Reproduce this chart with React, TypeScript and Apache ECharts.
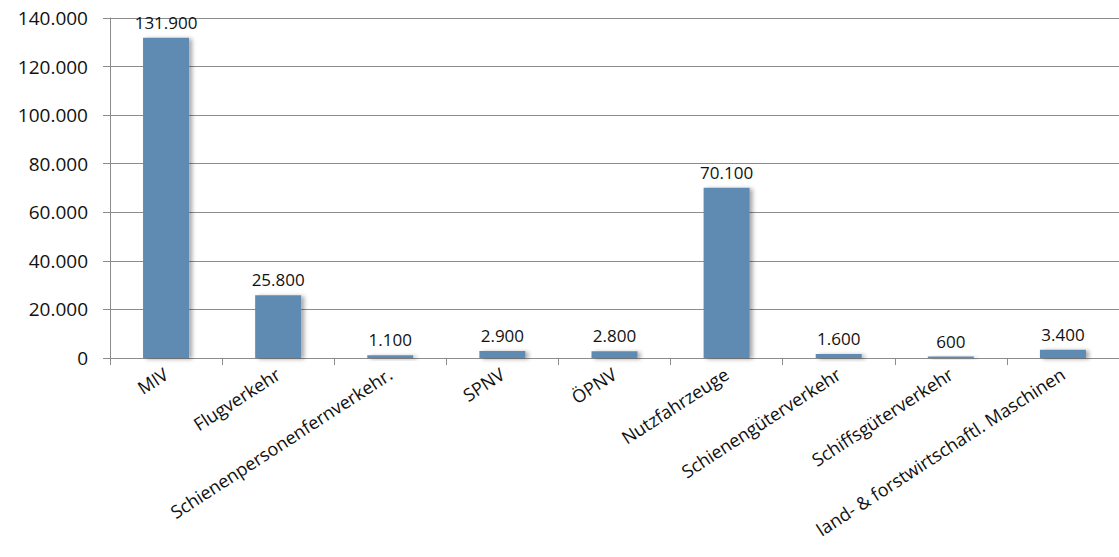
import React, { useEffect, useRef } from "react";
import * as echarts from "echarts";

const categories = [
  "MIV",
  "Flugverkehr",
  "Schienenpersonenfernverkehr.",
  "SPNV",
  "ÖPNV",
  "Nutzfahrzeuge",
  "Schienengüterverkehr",
  "Schiffsgüterverkehr",
  "land- & forstwirtschaftl. Maschinen",
];
const values = [131900, 25800, 1100, 2900, 2800, 70100, 1600, 600, 3400];

const fmt = (v: number) => String(v).replace(/\B(?=(\d{3})+(?!\d))/g, ".");

export default function App() {
  const ref = useRef<HTMLDivElement>(null);
  useEffect(() => {
    document.body.style.margin = "0";
    const chart = echarts.init(ref.current!, null, { renderer: "svg" });
    chart.setOption({
      animation: false,
      backgroundColor: "#ffffff",
      textStyle: { fontFamily: "Open Sans" },
      grid: { left: 110, right: -2, top: 18, bottom: 199, containLabel: false },
      xAxis: {
        type: "category",
        data: categories,
        axisLine: { lineStyle: { color: "#8c8c8c", width: 1 } },
        axisTick: { show: true, length: 7, lineStyle: { color: "#8c8c8c" } },
        axisLabel: {
          rotate: 33,
          interval: 0,
          color: "#111",
          fontSize: 18,
          margin: 14,
          fontFamily: "Open Sans",
        },
      },
      yAxis: {
        type: "value",
        min: 0,
        max: 140000,
        interval: 20000,
        axisLine: { show: true, lineStyle: { color: "#8c8c8c" } },
        axisTick: { show: true, length: 7, lineStyle: { color: "#8c8c8c" } },
        splitLine: { lineStyle: { color: "#8c8c8c", width: 1 } },
        axisLabel: {
          color: "#111",
          fontSize: 19,
          margin: 22,
          fontFamily: "Open Sans",
          formatter: (v: number) => fmt(v),
        },
      },
      series: [
        {
          type: "bar",
          data: values,
          barWidth: 46,
          itemStyle: {
            color: "#5e8bb3",
            shadowColor: "rgba(0,0,0,0.35)",
            shadowBlur: 4,
            shadowOffsetX: 3,
            shadowOffsetY: 1,
          },
          label: {
            show: true,
            position: "top",
            distance: 7,
            color: "#111",
            fontSize: 17,
            fontFamily: "Open Sans",
            formatter: (p: any) => fmt(p.value),
          },
        },
      ],
    });
    return () => chart.dispose();
  }, []);
  return <div ref={ref} style={{ width: 1119, height: 557 }} />;
}
